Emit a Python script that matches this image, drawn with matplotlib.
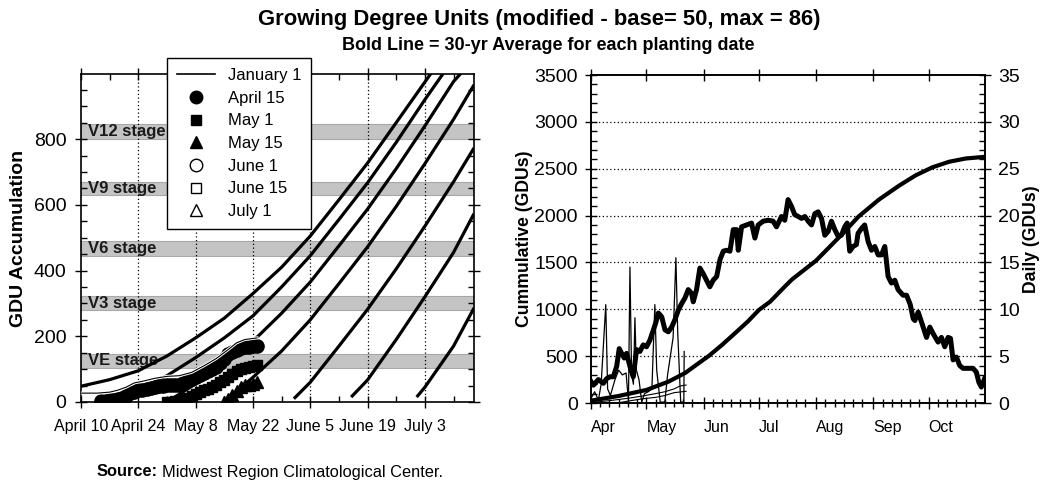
import matplotlib
matplotlib.use("Agg")
import matplotlib.pyplot as plt
from matplotlib.ticker import MultipleLocator, FixedLocator
from matplotlib.lines import Line2D

plt.rcParams['font.family'] = ['Liberation Sans', 'DejaVu Sans']

# ---------------- LEFT PANEL DATA (days after April 10) ----------------
x_tick_days = [0, 14, 28, 42, 56, 70, 84]
x_tick_labels = ["April 10", "April 24", "May 8", "May 22", "June 5", "June 19", "July 3"]

stage_names = ["VE stage", "V3 stage", "V6 stage", "V9 stage", "V12 stage"]
stage_lo = [103, 280, 445, 630, 800]
stage_hi = [147, 322, 490, 670, 845]

# 30-yr average accumulations (bold lines)
jan1_avg_t = [0, 7, 14, 21, 28, 35, 42, 49, 56, 63, 70, 77, 85.5]
jan1_avg_v = [48, 68, 95, 140, 195, 255, 330, 410, 505, 615, 727, 850, 1000]
apr15_avg_t = [5, 10, 14, 21, 28, 35, 42, 49, 56, 63, 70, 77, 84, 88.5]
apr15_avg_v = [0, 12, 35, 80, 135, 195, 262, 350, 445, 555, 667, 790, 920, 1000]
may1_avg_t = [21, 28, 35, 42, 49, 56, 63, 70, 77, 84, 91, 92.8]
may1_avg_v = [0, 55, 115, 185, 270, 365, 475, 587, 710, 840, 975, 1000]
may15_avg_t = [35, 42, 49, 56, 63, 70, 77, 84, 91, 96]
may15_avg_v = [0, 75, 155, 250, 360, 472, 595, 725, 860, 965]
jun1_avg_t = [52, 56, 63, 70, 77, 84, 91, 96]
jun1_avg_v = [10, 60, 170, 282, 405, 535, 670, 773]
jun15_avg_t = [66, 70, 77, 84, 91, 96]
jun15_avg_v = [15, 67, 190, 320, 455, 573]
jul1_avg_t = [82, 84, 91, 96]
jul1_avg_v = [15, 45, 170, 286]

# current-year observations
jan1_obs_t = [0, 4, 7, 9, 11, 13, 15, 18, 21, 24, 27, 30, 33, 36, 38, 40, 43]
jan1_obs_v = [27, 27, 30, 36, 45, 58, 63, 72, 78, 80, 90, 110, 132, 160, 180, 190, 195]
apr15_obs_t = list(range(5, 44))
apr15_obs_v = [2, 3, 5, 7, 9, 13, 19, 26, 31, 35, 37, 40, 43, 46, 48, 50, 51, 52, 52, 53,
               58, 64, 70, 76, 83, 89, 95, 100, 107, 118, 132, 145, 153, 158, 163, 167,
               168, 170, 171]
may1_obs_t = list(range(21, 44))
may1_obs_v = [0, 1, 2, 4, 8, 13, 19, 25, 30, 36, 41, 47, 53, 60, 68, 76, 85, 94, 100,
              104, 107, 110, 112]
may15_obs_t = list(range(35, 44))
may15_obs_v = [0, 8, 20, 33, 47, 52, 53, 56, 60]

# ---------------- RIGHT PANEL DATA (days after April 1) ----------------
month_days = [0, 30, 61, 91, 122, 153, 183]
month_labels = ["Apr", "May", "Jun", "Jul", "Aug", "Sep", "Oct"]
month_lengths = [30, 31, 30, 31, 31, 30, 31]

daily_avg_d = [0, 1.3, 4, 6.7, 8.5, 10.3, 12.1, 13.9, 15.3, 16.6, 18, 19.3, 21.1, 22.9, 24.7,
               26.5, 28.3, 30.1, 31.9, 33.8, 35, 36.5, 38.3, 40.1, 41.9, 43.7, 45.5, 47.3,
               49.1, 50.9, 52.7, 54.5, 55.4, 57.2, 59, 60.8, 62.6, 64.4, 66.2, 68.1, 69.9,
               71.7, 73.5, 75.3, 77.1, 78.9, 79.8, 81.6, 84.3, 87, 88.8, 90.6, 93.3, 96,
               98.7, 100.5, 103.2, 105, 106.8, 108.6, 110.4, 112.3, 114.1, 115.9, 117.7,
               119.5, 121.3, 123.1, 124.9, 126.7, 128.5, 130.3, 132.1, 133.9, 135.7, 137.5,
               138.8, 140.2, 142, 143.8, 144.7, 146.5, 148.3, 150.2, 152, 153.8, 155.6,
               157.4, 159.2, 161, 162.8, 164.6, 166.4, 169.1, 171, 173, 174.6, 175.5, 177.3,
               180, 181.8, 183.6, 185.4, 188.1, 189.9, 191.7, 193.5, 194.8, 196.2, 198,
               199.8, 201.6, 204.3, 207, 208.8, 210.2, 211.5, 213.3]
daily_avg_v = [2.3, 1.9, 2.5, 2.1, 2.6, 2.8, 2.8, 3.9, 5.8, 5.3, 4.8, 5.3, 3.9, 2.8, 5.7,
               5.5, 6.2, 6.0, 6.7, 7.8, 8.5, 9.6, 9.2, 7.8, 7.6, 8.1, 8.9, 9.9,
               10.6, 11.2, 12.1, 11.7, 10.8, 12.1, 14.4, 13.8, 13.1, 12.4, 13.1, 13.5, 15.3,
               16.2, 16.3, 16.2, 18.5, 18.5, 16.3, 18.8, 19.0, 19.2, 17.6, 19.0, 19.4, 19.5,
               19.4, 18.8, 19.9, 19.5, 21.7, 21.0, 20.1, 19.9, 19.7, 19.9, 19.4,
               19.0, 20.2, 20.4, 19.7, 17.9, 18.3, 19.4, 18.5, 17.8, 17.9, 18.8,
               19.2, 16.2, 16.7, 16.9, 18.1, 18.6, 19.0, 17.2, 16.3, 16.7, 15.8,
               15.8, 16.7, 13.5, 12.8, 13.1, 12.1, 11.5, 11.5, 10.5, 9.0, 8.8, 9.7,
               8.1, 7.0, 8.1, 7.4, 6.5, 7.0, 6.0, 7.0, 6.9, 4.6, 4.9,
               4.0, 3.7, 3.7, 3.7, 3.3, 2.2, 1.7, 2.6]

cum_avg_d = [0, 15, 30, 42, 51, 58, 64, 71, 78, 85, 91, 97, 105, 109, 122, 136, 145, 156,
             167, 176, 185, 194, 203, 213.5]
cum_avg_v = [25, 75, 139, 228, 320, 420, 505, 620, 744, 870, 993, 1080, 1242, 1320, 1520,
             1800, 1990, 2170, 2320, 2430, 2515, 2574, 2609, 2627]

daily_obs_d = [0, 2, 4, 5.5, 8, 9, 10.5, 13, 15, 17, 19, 20.3, 21.1, 22, 23, 23.8, 24.6,
               26, 27.5, 29, 31, 33, 34.6, 35.6, 37.5, 40, 41.5, 43, 44.5, 46, 47, 48.6,
               50.3, 50.5]
daily_obs_v = [0.5, 1.2, 0.3, 2.0, 10.5, 1.5, 0.8, 2.5, 3.5, 3.0, 3.2, 0.2, 14.5, 3.0, 2.0,
               9.1, 3.5, 2.5, 0.1, 1.0, 1.2, 1.5, 10.5, 3.5, 0.1, 0.1, 3.0, 5.0, 7.0, 15.5,
               7.5, 0.1, 0.1, 5.5]

cum_obs1_d = [0, 10, 20, 28, 35, 40, 45, 48, 51.5]
cum_obs1_v = [5, 25, 50, 75, 100, 120, 150, 180, 192]
cum_obs2_d = [14, 20, 28, 35, 40, 45, 51.5]
cum_obs2_v = [0, 20, 45, 60, 80, 110, 125]

# ---------------- FIGURE ----------------
W, H = 1042, 480
fig = plt.figure(figsize=(W / 100, H / 100), dpi=100)


def rect(l, t, r, b):
    return [l / W, 1 - b / H, (r - l) / W, (b - t) / H]


ax1 = fig.add_axes(rect(81, 74, 474, 402))
ax2 = fig.add_axes(rect(591, 75, 985, 403))
ax3 = ax2.twinx()

K = 'black'

# ---- left panel ----
ax1.set_xlim(0, 96)
ax1.set_ylim(0, 998)
for lo, hi, name in zip(stage_lo, stage_hi, stage_names):
    ax1.axhspan(lo, hi, facecolor='#c4c4c4', edgecolor='#a8a8a8', lw=0.8, zorder=1)
    ax1.text(1.7, (lo + hi) / 2, name, fontsize=12, fontweight='bold', va='center',
             ha='left', color='#1a1a1a', zorder=2)
for d in x_tick_days[1:]:
    ax1.axvline(d, color=K, ls=(0, (1, 2)), lw=0.9, zorder=1.5)

for tt, vv in [(jan1_avg_t, jan1_avg_v), (apr15_avg_t, apr15_avg_v), (may1_avg_t, may1_avg_v),
               (may15_avg_t, may15_avg_v), (jun1_avg_t, jun1_avg_v), (jun15_avg_t, jun15_avg_v),
               (jul1_avg_t, jul1_avg_v)]:
    ax1.plot(tt, vv, color=K, lw=2.3, zorder=3, solid_capstyle='butt')

ax1.plot(apr15_obs_t, apr15_obs_v, 'o', color=K, ms=9.5, zorder=4)
ax1.plot(may1_obs_t, may1_obs_v, 's', color=K, ms=7.5, zorder=4)
ax1.plot(may15_obs_t, may15_obs_v, '^', color=K, ms=8, zorder=4)
ax1.plot(jan1_obs_t, jan1_obs_v, color='white', lw=2.2, zorder=4.5)
ax1.plot(jan1_obs_t, jan1_obs_v, color=K, lw=0.8, zorder=5)

ax1.xaxis.set_major_locator(FixedLocator(x_tick_days))
ax1.set_xticklabels(x_tick_labels, fontsize=11.5)
ax1.xaxis.set_minor_locator(MultipleLocator(7))
ax1.yaxis.set_major_locator(FixedLocator([0, 200, 400, 600, 800]))
ax1.yaxis.set_minor_locator(MultipleLocator(50))
ax1.tick_params(axis='y', which='major', labelsize=14, pad=6)
ax1.tick_params(which='major', direction='inout', length=9, width=1, top=True, right=True)
ax1.tick_params(which='minor', direction='in', length=4, width=1, top=True, right=True)
ax1.tick_params(axis='x', which='major', pad=8)
ax1.set_ylabel("GDU Accumulation", fontsize=14, fontweight='bold')
ax1.yaxis.set_label_coords(-0.137, 0.5)
for s in ax1.spines.values():
    s.set_linewidth(1.2)

leg_handles = [
    Line2D([], [], color=K, lw=1.2),
    Line2D([], [], color=K, marker='o', ls='none', ms=9),
    Line2D([], [], color=K, marker='s', ls='none', ms=7.5),
    Line2D([], [], color=K, marker='^', ls='none', ms=8),
    Line2D([], [], color=K, marker='o', ls='none', ms=9, mfc='white'),
    Line2D([], [], color=K, marker='s', ls='none', ms=7.5, mfc='white'),
    Line2D([], [], color=K, marker='^', ls='none', ms=8, mfc='white'),
]
leg_labels = ["January 1", "April 15", "May 1", "May 15", "June 1", "June 15", "July 1"]
leg = fig.legend(leg_handles, leg_labels, loc='upper left',
                 bbox_to_anchor=(167 / W, 1 - 58 / H), fontsize=12, frameon=True,
                 fancybox=False, framealpha=1, edgecolor=K, handlelength=2.3,
                 handletextpad=0.75, labelspacing=0.46, borderpad=0.6, borderaxespad=0)
leg.get_frame().set_linewidth(1.0)
leg.set_zorder(10)

# ---- right panel ----
ax2.set_xlim(0, 213.5)
ax2.set_ylim(0, 3500)
ax3.set_ylim(0, 35)
for g in range(500, 3001, 500):
    ax2.axhline(g, color=K, ls=(0, (1, 2)), lw=0.9, zorder=1)

ax2.plot(cum_obs1_d, cum_obs1_v, color=K, lw=0.8, zorder=3)
ax2.plot(cum_obs2_d, cum_obs2_v, color=K, lw=0.8, zorder=3)
ax2.plot(cum_avg_d, cum_avg_v, color=K, lw=3.0, zorder=4)
ax3.plot(daily_obs_d, daily_obs_v, color=K, lw=0.9, zorder=3)
ax3.plot(daily_avg_d, daily_avg_v, color=K, lw=3.6, zorder=4, solid_joinstyle='round')

ax2.xaxis.set_major_locator(FixedLocator(month_days))
ax2.set_xticklabels(month_labels, fontsize=11.5)
for lbl in ax2.get_xticklabels():
    lbl.set_horizontalalignment('left')
minor_days = []
for start, length in zip(month_days, month_lengths):
    for k in range(5, length, 5):
        if k < 30:
            minor_days.append(start + k)
ax2.xaxis.set_minor_locator(FixedLocator(minor_days))
ax2.yaxis.set_major_locator(MultipleLocator(500))
ax2.yaxis.set_minor_locator(MultipleLocator(100))
ax3.yaxis.set_major_locator(MultipleLocator(5))
ax3.yaxis.set_minor_locator(MultipleLocator(1))
ax2.tick_params(which='major', direction='inout', length=9, width=1, top=True)
ax2.tick_params(which='minor', direction='in', length=4, width=1)
ax2.tick_params(axis='x', which='minor', direction='inout', length=6)
ax2.tick_params(axis='y', which='major', labelsize=14, pad=5)
ax2.tick_params(axis='x', which='major', pad=8)
ax3.tick_params(which='major', direction='inout', length=9, width=1, labelsize=14, pad=5)
ax3.tick_params(which='minor', direction='in', length=4, width=1)
ax2.set_ylabel("Cummulative (GDUs)", fontsize=12.7, fontweight='bold')
ax2.yaxis.set_label_coords(-0.147, 0.5)
ax3.set_ylabel("Daily (GDUs)", fontsize=12.7, fontweight='bold', rotation=90)
ax3.yaxis.set_label_coords(1.097, 0.5)
for a in (ax2, ax3):
    for s in a.spines.values():
        s.set_linewidth(1.2)

# ---- titles / source ----
fig.text(539 / W, 1 - 20 / H, "Growing Degree Units (modified - base= 50, max = 86)",
         fontsize=15.8, fontweight='bold', ha='center', va='center')
fig.text(548 / W, 1 - 45 / H, "Bold Line = 30-yr Average for each planting date",
         fontsize=13, fontweight='bold', ha='center', va='center')

t1 = fig.text(97 / W, 1 - 472 / H, "Source:", fontsize=11.8, fontweight='bold',
              ha='left', va='center')
fig.canvas.draw()
bb = t1.get_window_extent(renderer=fig.canvas.get_renderer())
fig.text(bb.x1 / W + 4 / W, 1 - 472 / H, "Midwest Region Climatological Center.",
         fontsize=11.8, ha='left', va='center')

fig.savefig("out.png", dpi=100)
